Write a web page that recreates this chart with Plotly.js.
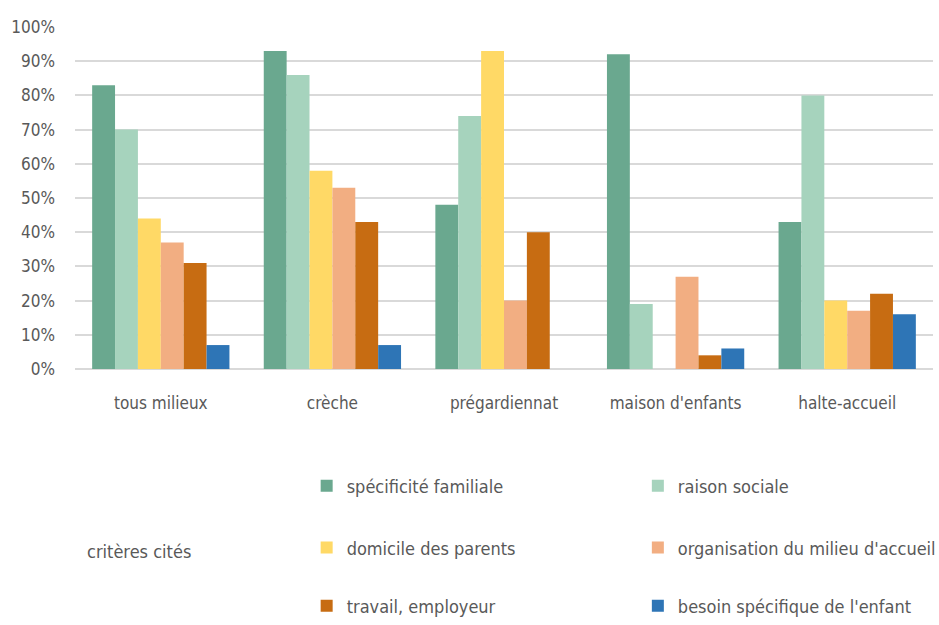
<!DOCTYPE html>
<html><head><meta charset="utf-8">
<script src="https://cdn.plot.ly/plotly-3.0.1.min.js"></script>
<style>html,body{margin:0;padding:0;background:#fff}#chart{width:939px;height:625px}</style>
</head><body><div id="chart"></div>
<script>
var categories = ['tous milieux', 'crèche', 'prégardiennat', "maison d'enfants", 'halte-accueil'];
var seriesNames = ['spécificité familiale', 'raison sociale', 'domicile des parents', "organisation du milieu d'accueil", 'travail, employeur', "besoin spécifique de l'enfant"];
var specificiteFamiliale = [0.83, 0.93, 0.48, 0.92, 0.43];
var raisonSociale = [0.70, 0.86, 0.74, 0.19, 0.80];
var domicileParents = [0.44, 0.58, 0.93, 0.00, 0.20];
var organisationMilieu = [0.37, 0.53, 0.20, 0.27, 0.17];
var travailEmployeur = [0.31, 0.43, 0.40, 0.04, 0.22];
var besoinEnfant = [0.07, 0.07, 0.00, 0.06, 0.16];
var legendTitle = 'critères cités';

var seriesValues = [specificiteFamiliale, raisonSociale, domicileParents, organisationMilieu, travailEmployeur, besoinEnfant];
var colors = ['#6aa88f', '#a6d3bd', '#ffd966', '#f2ae82', '#c76c12', '#2e75b6'];
var legendIds = ['legend', 'legend2', 'legend3', 'legend4', 'legend5', 'legend6'];
var FONT = '"DejaVu Sans Condensed", "Liberation Sans Narrow", sans-serif';

var traces = seriesValues.map(function(v, i){
  return {type:'bar', x:categories, y:v, name:seriesNames[i], marker:{color:colors[i]}, legend:legendIds[i]};
});

function leg(x, y){
  return {orientation:'v', x:x, xanchor:'left', y:y, yanchor:'middle', itemwidth:30,
    font:{family:FONT, size:18, color:'#595959'}, bgcolor:'rgba(0,0,0,0)'};
}
var colX = [0.27, 0.656];
var rowY = [-0.342, -0.523, -0.693];

var layout = {
  width:939, height:625,
  margin:{l:75, r:6, t:27, b:256, autoexpand:false},
  paper_bgcolor:'#fff', plot_bgcolor:'#fff',
  font:{family:FONT, color:'#595959'},
  barmode:'group', bargap:0.2, bargroupgap:0,
  xaxis:{showgrid:false, showline:false, zeroline:false, ticks:'', tickfont:{size:17, color:'#595959'}, ticklabelstandoff:22},
  yaxis:{range:[0,1], dtick:0.1, tickformat:'.0%', showgrid:true, gridcolor:'#d9d9d9', gridwidth:2,
    zeroline:true, zerolinecolor:'#d9d9d9', zerolinewidth:2, ticks:'', tickfont:{size:17, color:'#595959'}, ticklabelstandoff:19},
  showlegend:true,
  legend:leg(colX[0], rowY[0]), legend2:leg(colX[1], rowY[0]),
  legend3:leg(colX[0], rowY[1]), legend4:leg(colX[1], rowY[1]),
  legend5:leg(colX[0], rowY[2]), legend6:leg(colX[1], rowY[2]),
  annotations:[{text:legendTitle, xref:'paper', yref:'paper', x:0.012, y:-0.535, xanchor:'left', yanchor:'middle', showarrow:false,
    font:{family:FONT, size:18, color:'#595959'}}]
};
Plotly.newPlot('chart', traces, layout, {displayModeBar:false, staticPlot:true});
</script></body></html>
